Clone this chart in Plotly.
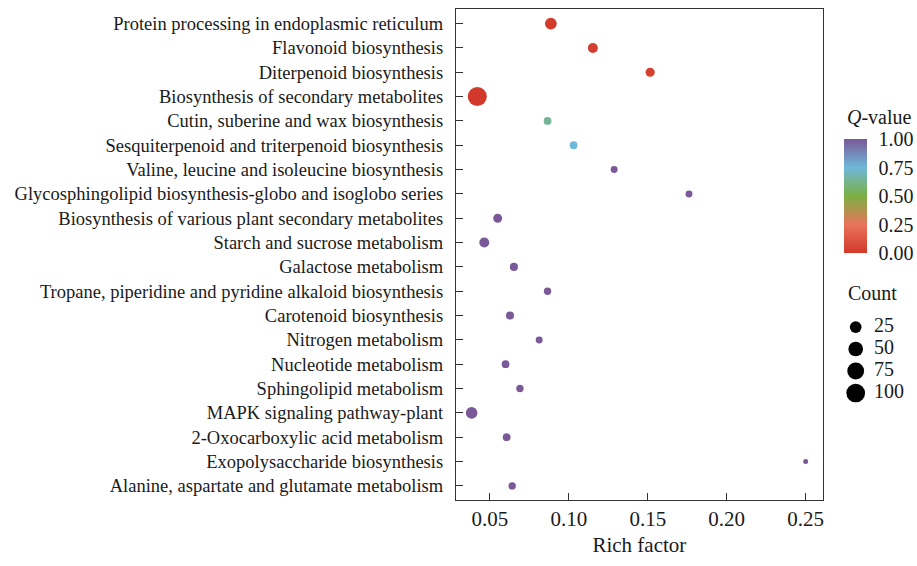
import numpy as np
import plotly.graph_objects as go

pathways = [
    "Protein processing in endoplasmic reticulum",
    "Flavonoid biosynthesis",
    "Diterpenoid biosynthesis",
    "Biosynthesis of secondary metabolites",
    "Cutin, suberine and wax biosynthesis",
    "Sesquiterpenoid and triterpenoid biosynthesis",
    "Valine, leucine and isoleucine biosynthesis",
    "Glycosphingolipid biosynthesis-globo and isoglobo series",
    "Biosynthesis of various plant secondary metabolites",
    "Starch and sucrose metabolism",
    "Galactose metabolism",
    "Tropane, piperidine and pyridine alkaloid biosynthesis",
    "Carotenoid biosynthesis",
    "Nitrogen metabolism",
    "Nucleotide metabolism",
    "Sphingolipid metabolism",
    "MAPK signaling pathway-plant",
    "2-Oxocarboxylic acid metabolism",
    "Exopolysaccharide biosynthesis",
    "Alanine, aspartate and glutamate metabolism",
]
rich_factor = [0.0886, 0.1152, 0.1515, 0.0420, 0.0865, 0.1030, 0.1287, 0.1761,
               0.0549, 0.0464, 0.0652, 0.0865, 0.0627, 0.0812, 0.0599, 0.0690,
               0.0384, 0.0606, 0.2500, 0.0641]
counts = [25, 14, 10, 104, 5, 5, 3, 3,
          9, 14, 6, 4, 6, 3, 5, 4,
          24, 5, 1, 4]
q_values = [0.01, 0.02, 0.03, 0.00, 0.64, 0.75, 1.00, 1.00,
            1.00, 1.00, 1.00, 1.00, 1.00, 1.00, 1.00, 1.00,
            1.00, 1.00, 1.00, 1.00]
count_breaks = [25, 50, 75, 100]
q_ticks = [0.0, 0.25, 0.5, 0.75, 1.0]

colorscale = [[0.0, "#d3392b"], [0.25, "#e8745b"], [0.5, "#7bb043"],
              [0.75, "#6eb8d9"], [1.0, "#7b5897"]]

FONT = "Liberation Serif, Times New Roman, serif"
TXT = "#1a1a1a"

cmin, cmax = min(counts), max(counts)
DMIN, DMAX = 5.0, 19.0


def diam(c):
    c = np.asarray(c, dtype=float)
    return DMIN + (DMAX - DMIN) * np.sqrt((c - cmin) / (cmax - cmin))


W, H = 917, 566
ML, MR, MT, MB = 456, 10, 9, 66
PW = W - ML - MR
PH = H - MT - MB
main_right = 822.7
xdom_main = (main_right - ML) / PW


def px_x(px):
    return (px - ML) / PW


def px_y(py):
    return (H - MB - py) / PH


fig = go.Figure()

fig.add_trace(go.Scatter(
    x=rich_factor, y=pathways, mode="markers",
    marker=dict(size=diam(counts), sizemode="diameter", color=q_values,
                colorscale=colorscale, cmin=0, cmax=1, opacity=1,
                line=dict(width=0),
                colorbar=dict(
                    xref="paper", x=px_x(844), xanchor="left", xpad=0,
                    yref="paper", y=px_y(196), yanchor="middle", ypad=0,
                    lenmode="pixels", len=114, thickness=23,
                    outlinewidth=0,
                    tickvals=q_ticks, tickformat=".2f",
                    ticks="outside", ticklen=8, tickcolor="rgba(0,0,0,0)", tickwidth=1,
                    tickfont=dict(family=FONT, size=20, color=TXT),
                )),
    showlegend=False, hoverinfo="x+y",
))

# Count legend drawn on a hidden auxiliary axis
fig.add_trace(go.Scatter(
    x=[0] * len(count_breaks), y=list(range(len(count_breaks))), mode="markers",
    marker=dict(size=diam(count_breaks), sizemode="diameter", color="#000000",
                opacity=1, line=dict(width=0)),
    xaxis="x2", yaxis="y2", showlegend=False, hoverinfo="skip", cliponaxis=False,
))
fig.add_trace(go.Scatter(
    x=[1] * len(count_breaks), y=list(range(len(count_breaks))), mode="text",
    text=[str(b) for b in count_breaks], textposition="middle right",
    textfont=dict(family=FONT, size=20, color=TXT),
    xaxis="x2", yaxis="y2", showlegend=False, hoverinfo="skip", cliponaxis=False,
))

axis_common = dict(showline=True, linecolor="#333333", linewidth=1.3, mirror=True,
                   ticks="inside", ticklen=7, tickcolor="#333333", tickwidth=1.2,
                   showgrid=False, zeroline=False)

fig.update_layout(
    width=W, height=H,
    margin=dict(l=ML, r=MR, t=MT, b=MB, autoexpand=False),
    paper_bgcolor="white", plot_bgcolor="white",
    font=dict(family=FONT, color=TXT),
    xaxis=dict(domain=[0, xdom_main], range=[0.0285, 0.2608],
               tickvals=[0.05, 0.10, 0.15, 0.20, 0.25], tickformat=".2f",
               tickfont=dict(family=FONT, size=21, color=TXT),
               title=dict(text="Rich factor", font=dict(family=FONT, size=21, color=TXT),
                          standoff=6),
               **axis_common),
    yaxis=dict(type="category", categoryorder="array", categoryarray=pathways,
               range=[len(pathways) - 1 + 0.58, -0.6],
               tickfont=dict(family=FONT, size=18.5, color=TXT),
               ticklabelstandoff=8,
               **axis_common),
    xaxis2=dict(domain=[px_x(845), 1], range=[-0.585, 2.8], visible=False,
                anchor="y2"),
    yaxis2=dict(domain=[0.2, 0.38], range=[3.4, -0.62], visible=False,
                anchor="x2"),
    annotations=[
        dict(text="<i>Q</i>-value", xref="paper", yref="paper",
             x=px_x(845), y=px_y(117), xanchor="left", yanchor="middle",
             showarrow=False, font=dict(family=FONT, size=20, color=TXT)),
        dict(text="Count", xref="paper", yref="paper",
             x=px_x(846), y=px_y(293), xanchor="left", yanchor="middle",
             showarrow=False, font=dict(family=FONT, size=20, color=TXT)),
    ],
)

fig.write_html("out.html")
